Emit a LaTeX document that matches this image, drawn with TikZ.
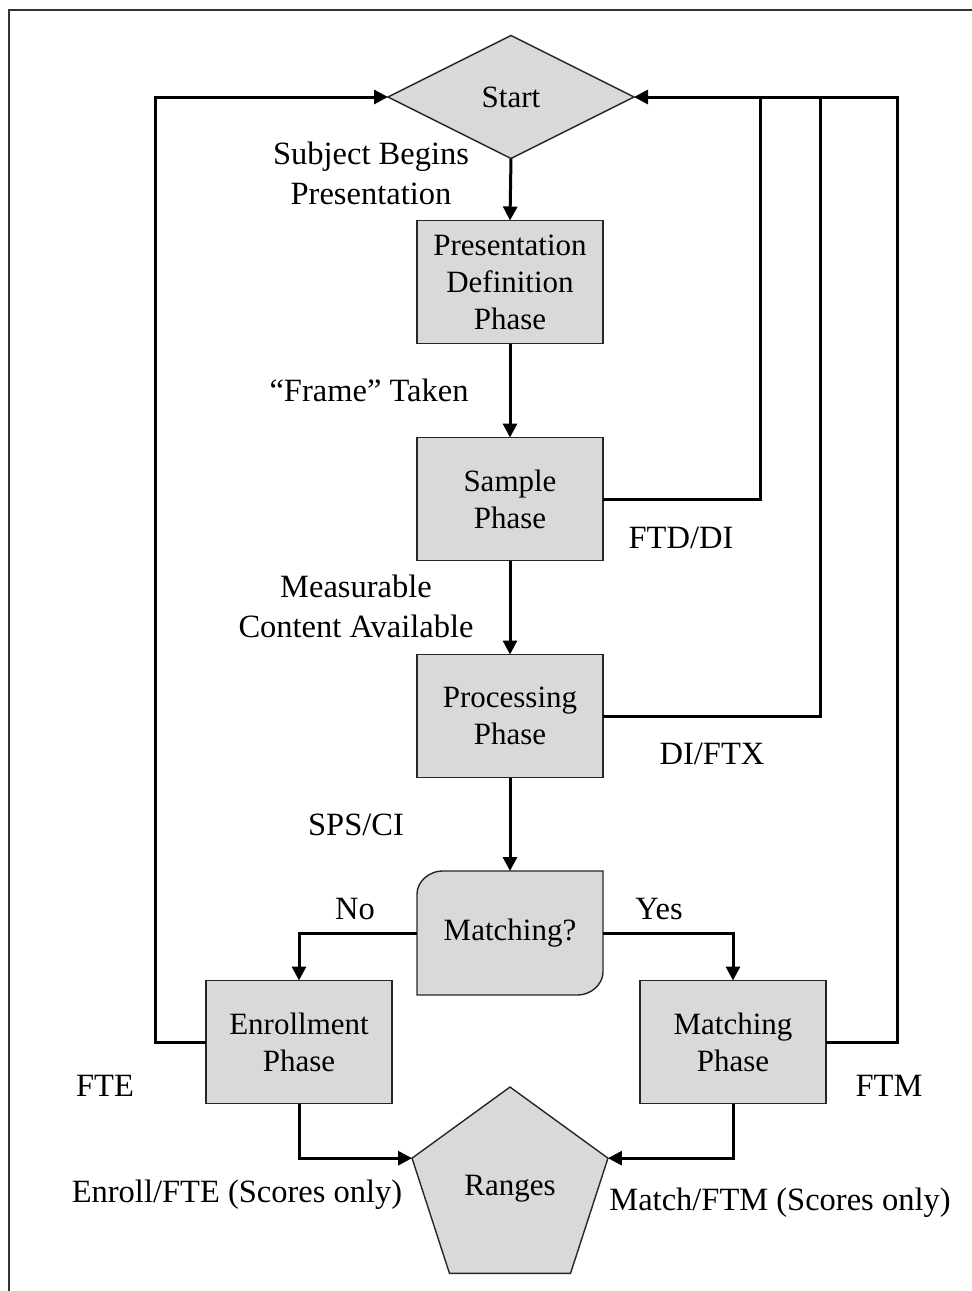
\documentclass[tikz,border=0pt]{standalone}
\usepackage{fontspec}
\setmainfont{Liberation Serif}
\usetikzlibrary{shapes.geometric,arrows.meta}
\begin{document}
\begin{tikzpicture}[x=1pt,y=-1pt,
  shapestyle/.style={draw=black!85, fill=black!15, line width=1.4pt},
  box/.style={shapestyle, minimum width=186pt, minimum height=123pt, align=center,
    font=\fontsize{31}{37}\selectfont, outer sep=0pt, inner sep=0pt},
  lab/.style={align=center, font=\fontsize{32.5}{40}\selectfont, inner sep=0pt},
  conn/.style={line width=3pt, black},
  arr/.style={conn, -{Triangle[length=14pt,width=14pt]}},
]
\useasboundingbox (0,0) rectangle (972,1291);
\draw[line width=2pt, black!80] (9,1291) -- (9,10) -- (972,10);

% nodes
\node[diamond, shapestyle, minimum width=246pt, minimum height=123pt, inner sep=0pt, outer sep=0pt,
  font=\fontsize{31}{37}\selectfont] (start) at (511,97) {Start};
\node[box] (pdp) at (510,282) {Presentation\\Definition\\Phase};
\node[box] (samp) at (510,499) {Sample\\Phase};
\node[box] (proc) at (510,716) {Processing\\Phase};
\draw[shapestyle] (417,995) -- (417,894) .. controls (417,881) and (430,871) .. (442,871) -- (603,871)
  -- (603,972) .. controls (603,985) and (590,995) .. (578,995) -- cycle;
\node[minimum width=186pt, minimum height=124pt, inner sep=0pt, outer sep=0pt,
  font=\fontsize{31}{37}\selectfont] (mq) at (510,933) {Matching?};
\node[box] (enr) at (299,1042) {Enrollment\\Phase};
\node[box] (mph) at (733,1042) {Matching\\Phase};
\node[regular polygon, regular polygon sides=5, shapestyle, minimum size=206pt, inner sep=0pt,
  outer sep=0pt, font=\fontsize{31}{37}\selectfont] (rng) at (510,1190) {\raisebox{10pt}{Ranges}};

% labels
\node[lab] (l1) at (371,173) {Subject Begins\\Presentation};
\node[lab] (l2) at (369,390) {``Frame'' Taken};
\node[lab] (l3) at (681,538) {FTD/DI};
\node[lab] (l4) at (356,606) {Measurable\\Content Available};
\node[lab] (l5) at (712,754) {DI/FTX};
\node[lab] (l6) at (356,825) {SPS/CI};
\node[lab] (l7) at (355,909) {No};
\node[lab] (l8) at (659,909) {Yes};
\node[lab] (l9) at (105,1086) {FTE};
\node[lab] (l10) at (889,1086) {FTM};
\node[lab] (l11) at (237,1195) {Enroll/FTE (Scores only)};
\node[lab] (l12) at (780,1203) {Match/FTM (Scores only)};

% coordinates
\coordinate (lt) at (155,97);
\coordinate (r1) at (760,97);
\coordinate (r2) at (820,97);
\coordinate (r3) at (897,97);

% connectors
\draw[arr] (start.south) -- (pdp.north);
\draw[arr] (pdp.south) -- (samp.north);
\draw[arr] (samp.south) -- (proc.north);
\draw[arr] (proc.south) -- (mq.north);
\draw[arr] (mq.west) -| (enr.north);
\draw[arr] (mq.east) -| (mph.north);
\draw[arr] (enr.west) -| (lt) -- (start.west);
\draw[conn] (samp.east) -| (r1);
\draw[conn] (proc.east) -| (r2);
\draw[arr] (mph.east) -| (r3) -- (start.east);
\draw[arr] (enr.south) |- (rng.corner 2);
\draw[arr] (mph.south) |- (rng.corner 5);
\end{tikzpicture}
\end{document}
